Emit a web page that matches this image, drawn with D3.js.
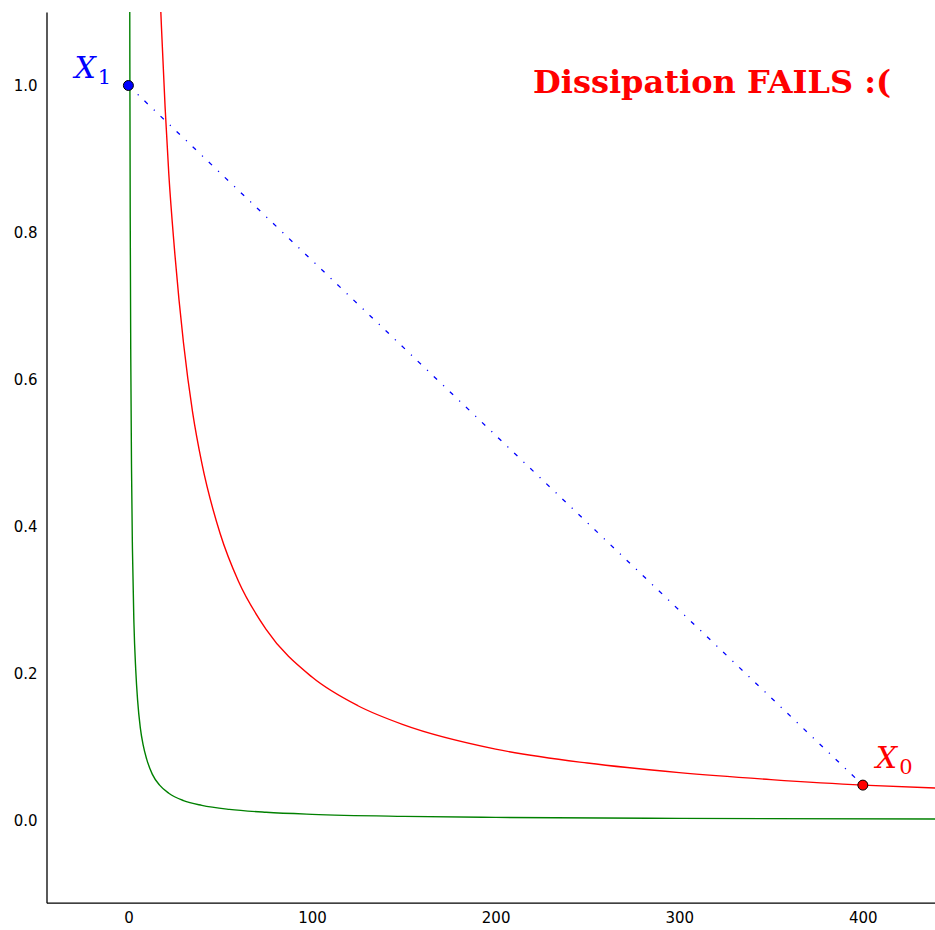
<!DOCTYPE html>
<html>
<head>
<meta charset="utf-8">
<script src="https://cdn.jsdelivr.net/npm/d3@7"></script>
<style>
  html, body { margin: 0; padding: 0; background: #fff; }
  svg { display: block; }
</style>
</head>
<body>
<svg id="chart" width="935" height="930"></svg>
<script>
// Upper level set (red) and lower level set (green), sampled points
const redX   = [17, 18, 20, 22, 25, 30, 35, 40, 50, 60, 75, 100, 125, 150, 200, 250, 300, 350, 400, 440];
const redY   = [1.14, 1.08, 0.97, 0.88, 0.78, 0.65, 0.555, 0.486, 0.39, 0.325, 0.26, 0.195, 0.156, 0.13, 0.097, 0.078, 0.065, 0.0555, 0.048, 0.044];
const greenX = [0.7, 0.8, 1, 1.3, 1.7, 2.2, 3, 4, 5, 6.5, 8, 10, 13, 17, 22, 30, 40, 55, 75, 100, 150, 200, 300, 440];
const greenY = [1.17, 1.03, 0.82, 0.63, 0.48, 0.37, 0.27, 0.205, 0.164, 0.126, 0.103, 0.083, 0.063, 0.048, 0.037, 0.027, 0.0205, 0.015, 0.011, 0.0082, 0.0055, 0.0041, 0.0027, 0.0019];

// The two iterates joined by the dash-dot segment
const pointX1 = [0, 1.0];
const pointX0 = [400, 0.048];

const xTicks = [0, 100, 200, 300, 400];
const yTicks = [0.0, 0.2, 0.4, 0.6, 0.8, 1.0];
const titleText = "Dissipation FAILS :(";

const plotLeft = 46.5, plotRight = 935, plotTop = 12, plotBottom = 902.7;
const x = d3.scaleLinear().domain([-44.6, 439.3]).range([plotLeft, plotRight]);
const y = d3.scaleLinear().domain([-0.112, 1.1]).range([plotBottom, plotTop]);

const svg = d3.select("#chart");

svg.append("defs").append("clipPath").attr("id", "plot-clip")
  .append("rect").attr("x", plotLeft).attr("y", plotTop)
  .attr("width", plotRight - plotLeft).attr("height", plotBottom - plotTop);

const plot = svg.append("g").attr("clip-path", "url(#plot-clip)");

const line = d3.line()
  .x(d => x(d[0]))
  .y(d => y(d[1]))
  .curve(d3.curveMonotoneX);

plot.append("path")
  .datum(greenX.map((v, i) => [v, greenY[i]]))
  .attr("d", line)
  .attr("fill", "none")
  .attr("stroke", "#008000")
  .attr("stroke-width", 1.4);

plot.append("path")
  .datum(redX.map((v, i) => [v, redY[i]]))
  .attr("d", line)
  .attr("fill", "none")
  .attr("stroke", "#ff0000")
  .attr("stroke-width", 1.4);

// Dash-dot segment X1 -> X0
plot.append("line")
  .attr("x1", x(pointX1[0])).attr("y1", y(pointX1[1]))
  .attr("x2", x(pointX0[0])).attr("y2", y(pointX0[1]))
  .attr("stroke", "#0000ff")
  .attr("stroke-width", 1.3)
  .attr("stroke-dasharray", "4.5,8.4,1.2,8.1");

// Markers
plot.append("circle")
  .attr("cx", x(pointX1[0])).attr("cy", y(pointX1[1])).attr("r", 5)
  .attr("fill", "#0000ff").attr("stroke", "#000").attr("stroke-width", 1);
plot.append("circle")
  .attr("cx", x(pointX0[0])).attr("cy", y(pointX0[1])).attr("r", 5)
  .attr("fill", "#ff0000").attr("stroke", "#000").attr("stroke-width", 1);

// Axes: left and bottom spines only, no tick marks
const xAxis = d3.axisBottom(x).tickValues(xTicks).tickSize(0).tickPadding(10).tickFormat(d3.format("d"));
const yAxis = d3.axisLeft(y).tickValues(yTicks).tickSize(0).tickPadding(9).tickFormat(d3.format(".1f"));

const gx = svg.append("g").attr("transform", `translate(0,${plotBottom})`).call(xAxis);
const gy = svg.append("g").attr("transform", `translate(${plotLeft},0)`).call(yAxis);
[gx, gy].forEach(g => {
  g.attr("font-family", "DejaVu Sans").attr("font-size", 15);
  g.select(".domain").attr("stroke", "#000").attr("stroke-width", 1.3);
  g.selectAll("text")
    .attr("font-family", "DejaVu Sans")
    .attr("font-size", 15)
    .attr("fill", "#000");
});

// Point labels: italic X with an upright subscript set slightly lower
function pointLabel(px, py, sub, color) {
  const main = svg.append("text")
    .attr("x", px).attr("y", py)
    .attr("font-family", "DejaVu Serif")
    .attr("font-style", "italic")
    .attr("font-size", 30)
    .attr("fill", color)
    .text("X");
  const w = main.node().getComputedTextLength();
  svg.append("text")
    .attr("x", px + w + 2).attr("y", py + 5.5)
    .attr("font-family", "DejaVu Serif")
    .attr("font-size", 21)
    .attr("fill", color)
    .text(sub);
}
pointLabel(x(pointX1[0]) - 54, y(pointX1[1]) - 7, "1", "#0000ff");
pointLabel(x(pointX0[0]) + 13, y(pointX0[1]) - 17, "0", "#ff0000");

// Title
svg.append("text")
  .attr("x", 533).attr("y", 93)
  .attr("font-family", "DejaVu Serif")
  .attr("font-weight", "bold")
  .attr("font-size", 32)
  .attr("fill", "#ff0000")
  .text(titleText);
</script>
</body>
</html>
